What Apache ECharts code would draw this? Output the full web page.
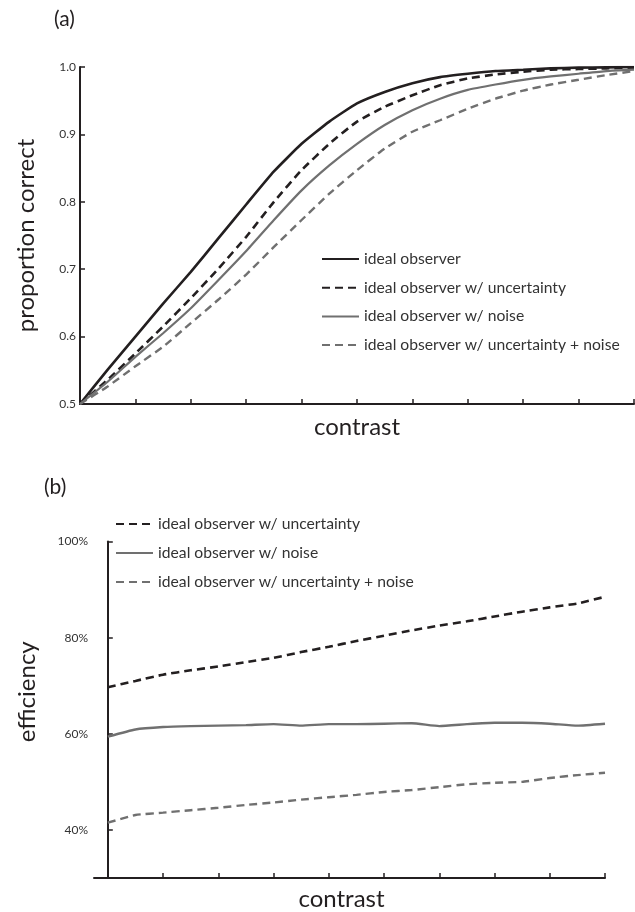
<!DOCTYPE html>
<html lang="en">
  <head>
    <meta charset="UTF-8" />
    <title>ideal observer</title>
    <script src="https://cdn.jsdelivr.net/npm/echarts@6/dist/echarts.min.js"></script>
    <style>
      html, body { margin: 0; padding: 0; background: #fff; }
      #main { width: 635px; height: 912px; }
    </style>
  </head>
  <body>
    <div id="main"></div>
    <script>
      // (a) proportion correct vs contrast
      const contrastA = [0, 0.5, 1, 1.5, 2, 2.5, 3, 3.5, 4, 4.5, 5, 5.5, 6, 6.5, 7, 7.5, 8, 8.5, 9, 9.5, 10]
      const idealA = [0.5, 0.551, 0.6, 0.649, 0.696, 0.746, 0.796, 0.845, 0.886, 0.919, 0.946, 0.963, 0.976, 0.985, 0.99, 0.994, 0.996, 0.998, 0.999, 0.9995, 1.0]
      const uncertA = [0.5, 0.536, 0.575, 0.615, 0.657, 0.701, 0.748, 0.8, 0.847, 0.886, 0.919, 0.941, 0.958, 0.973, 0.983, 0.989, 0.993, 0.996, 0.997, 0.998, 0.999]
      const noiseA = [0.5, 0.533, 0.57, 0.605, 0.642, 0.684, 0.727, 0.773, 0.817, 0.854, 0.886, 0.914, 0.936, 0.953, 0.966, 0.974, 0.981, 0.986, 0.99, 0.994, 0.996]
      const bothA = [0.5, 0.526, 0.556, 0.585, 0.62, 0.655, 0.692, 0.733, 0.773, 0.812, 0.847, 0.879, 0.904, 0.921, 0.938, 0.953, 0.965, 0.974, 0.981, 0.988, 0.994]
      const yTicksA = [0.5, 0.6, 0.7, 0.8, 0.9, 1.0]

      // (b) efficiency (%) vs contrast
      const contrastB = [0, 0.5, 1, 1.5, 2, 2.5, 3, 3.5, 4, 4.5, 5, 5.5, 6, 6.5, 7, 7.5, 8, 8.5, 9]
      const uncertB = [69.7, 71.0, 72.3, 73.2, 74.0, 74.9, 75.8, 77.0, 78.1, 79.3, 80.4, 81.5, 82.5, 83.4, 84.4, 85.4, 86.3, 87.1, 88.5]
      const noiseB = [59.4, 60.9, 61.4, 61.6, 61.7, 61.8, 62.0, 61.7, 62.0, 62.0, 62.1, 62.2, 61.6, 62.0, 62.3, 62.3, 62.1, 61.7, 62.1]
      const bothB = [41.5, 43.1, 43.6, 44.1, 44.6, 45.2, 45.7, 46.3, 46.8, 47.3, 47.9, 48.3, 48.9, 49.5, 49.8, 50.0, 50.8, 51.4, 51.9]
      const yTicksB = [40, 60, 80, 100]
      const xTicksB = [0, 1, 2, 3, 4, 5, 6, 7, 8, 9]

      const names = [
        'ideal observer',
        'ideal observer w/ uncertainty',
        'ideal observer w/ noise',
        'ideal observer w/ uncertainty + noise',
      ]

      const black = '#231f20'
      const grey = '#707070'
      const font = 'Lato, "Noto Sans", sans-serif'

      const pairs = (xs, ys) => xs.map((x, i) => [x, ys[i]])

      const lineSeries = (name, xs, ys, idx, color, dashed, width) => ({
        name,
        type: 'line',
        xAxisIndex: idx,
        yAxisIndex: idx,
        data: pairs(xs, ys),
        symbol: 'none',
        smooth: 0.15,
        silent: true,
        lineStyle: { color, width, type: dashed ? [8, 5] : 'solid' },
        itemStyle: { color },
      })

      const axisLine = { show: true, lineStyle: { color: black, width: 2 } }
      const nameStyle = { fontSize: 24, color: black, fontFamily: font }

      const myChart = echarts.init(document.getElementById('main'))
      const option = {
        backgroundColor: '#fff',
        animation: false,
        textStyle: { fontFamily: font },
        grid: [
          { left: 80, right: 1, top: 67, height: 337 },
          { left: 94, right: 30, top: 541.5, height: 336.5 },
        ],
        graphic: [
          { type: 'text', left: 54, top: 9, style: { text: '(a)', font: '21px ' + font, fill: black } },
          { type: 'text', left: 44, top: 477, style: { text: '(b)', font: '21px ' + font, fill: black } },
        ],
        legend: [
          {
            orient: 'vertical',
            left: 316,
            top: 246,
            itemWidth: 37,
            itemHeight: 14,
            itemGap: 12.7,
            selectedMode: false,
            itemStyle: { opacity: 0 },
            textStyle: { fontSize: 15.7, color: '#333', fontFamily: font },
            data: names,
          },
          {
            orient: 'vertical',
            left: 110,
            top: 511,
            itemWidth: 37,
            itemHeight: 14,
            itemGap: 13,
            selectedMode: false,
            itemStyle: { opacity: 0 },
            textStyle: { fontSize: 15.7, color: '#333', fontFamily: font },
            data: names.slice(1),
          },
        ],
        xAxis: [
          {
            type: 'value',
            gridIndex: 0,
            min: 0,
            max: 10,
            interval: 1,
            name: 'contrast',
            nameLocation: 'middle',
            nameGap: 11,
            nameTextStyle: nameStyle,
            axisLine,
            axisTick: { show: true, inside: true, length: 5, lineStyle: { color: black, width: 1.5 } },
            axisLabel: { show: false },
            splitLine: { show: false },
          },
          {
            type: 'value',
            gridIndex: 1,
            min: -0.25,
            max: 9,
            name: 'contrast',
            nameLocation: 'middle',
            nameGap: 9,
            nameTextStyle: Object.assign({}, nameStyle, { padding: [0, 16, 0, 0] }),
            axisLine,
            axisTick: { show: true, inside: true, length: 5, customValues: xTicksB, lineStyle: { color: black, width: 1.5 } },
            axisLabel: { show: false },
            splitLine: { show: false },
          },
        ],
        yAxis: [
          {
            type: 'value',
            gridIndex: 0,
            min: 0.5,
            max: 1.0,
            name: 'proportion correct',
            nameLocation: 'middle',
            nameGap: 42,
            nameTextStyle: nameStyle,
            axisLine,
            axisTick: { show: true, inside: true, length: 5, customValues: yTicksA, lineStyle: { color: black, width: 1.5 } },
            axisLabel: {
              customValues: yTicksA,
              margin: 4,
              fontSize: 12,
              color: '#333',
              formatter: (v) => v.toFixed(1),
            },
            splitLine: { show: false },
          },
          {
            type: 'value',
            gridIndex: 1,
            min: 30,
            max: 100,
            name: 'efficiency',
            nameLocation: 'middle',
            nameGap: 55,
            nameTextStyle: Object.assign({}, nameStyle, { padding: [0, 0, 0, 36] }),
            axisLine,
            axisTick: { show: true, inside: true, length: 5, customValues: yTicksB, lineStyle: { color: black, width: 1.5 } },
            axisLabel: {
              customValues: yTicksB,
              margin: 6,
              fontSize: 12,
              color: '#333',
              formatter: (v) => v + '%',
            },
            splitLine: { show: false },
          },
        ],
        series: [
          lineSeries(names[0], contrastA, idealA, 0, black, false, 2.6),
          lineSeries(names[1], contrastA, uncertA, 0, black, true, 2.6),
          lineSeries(names[2], contrastA, noiseA, 0, grey, false, 2.2),
          lineSeries(names[3], contrastA, bothA, 0, grey, true, 2.4),
          lineSeries(names[1], contrastB, uncertB, 1, black, true, 2.6),
          lineSeries(names[2], contrastB, noiseB, 1, grey, false, 2.4),
          lineSeries(names[3], contrastB, bothB, 1, grey, true, 2.4),
        ],
      }

      myChart.setOption(option)
    </script>
  </body>
</html>
